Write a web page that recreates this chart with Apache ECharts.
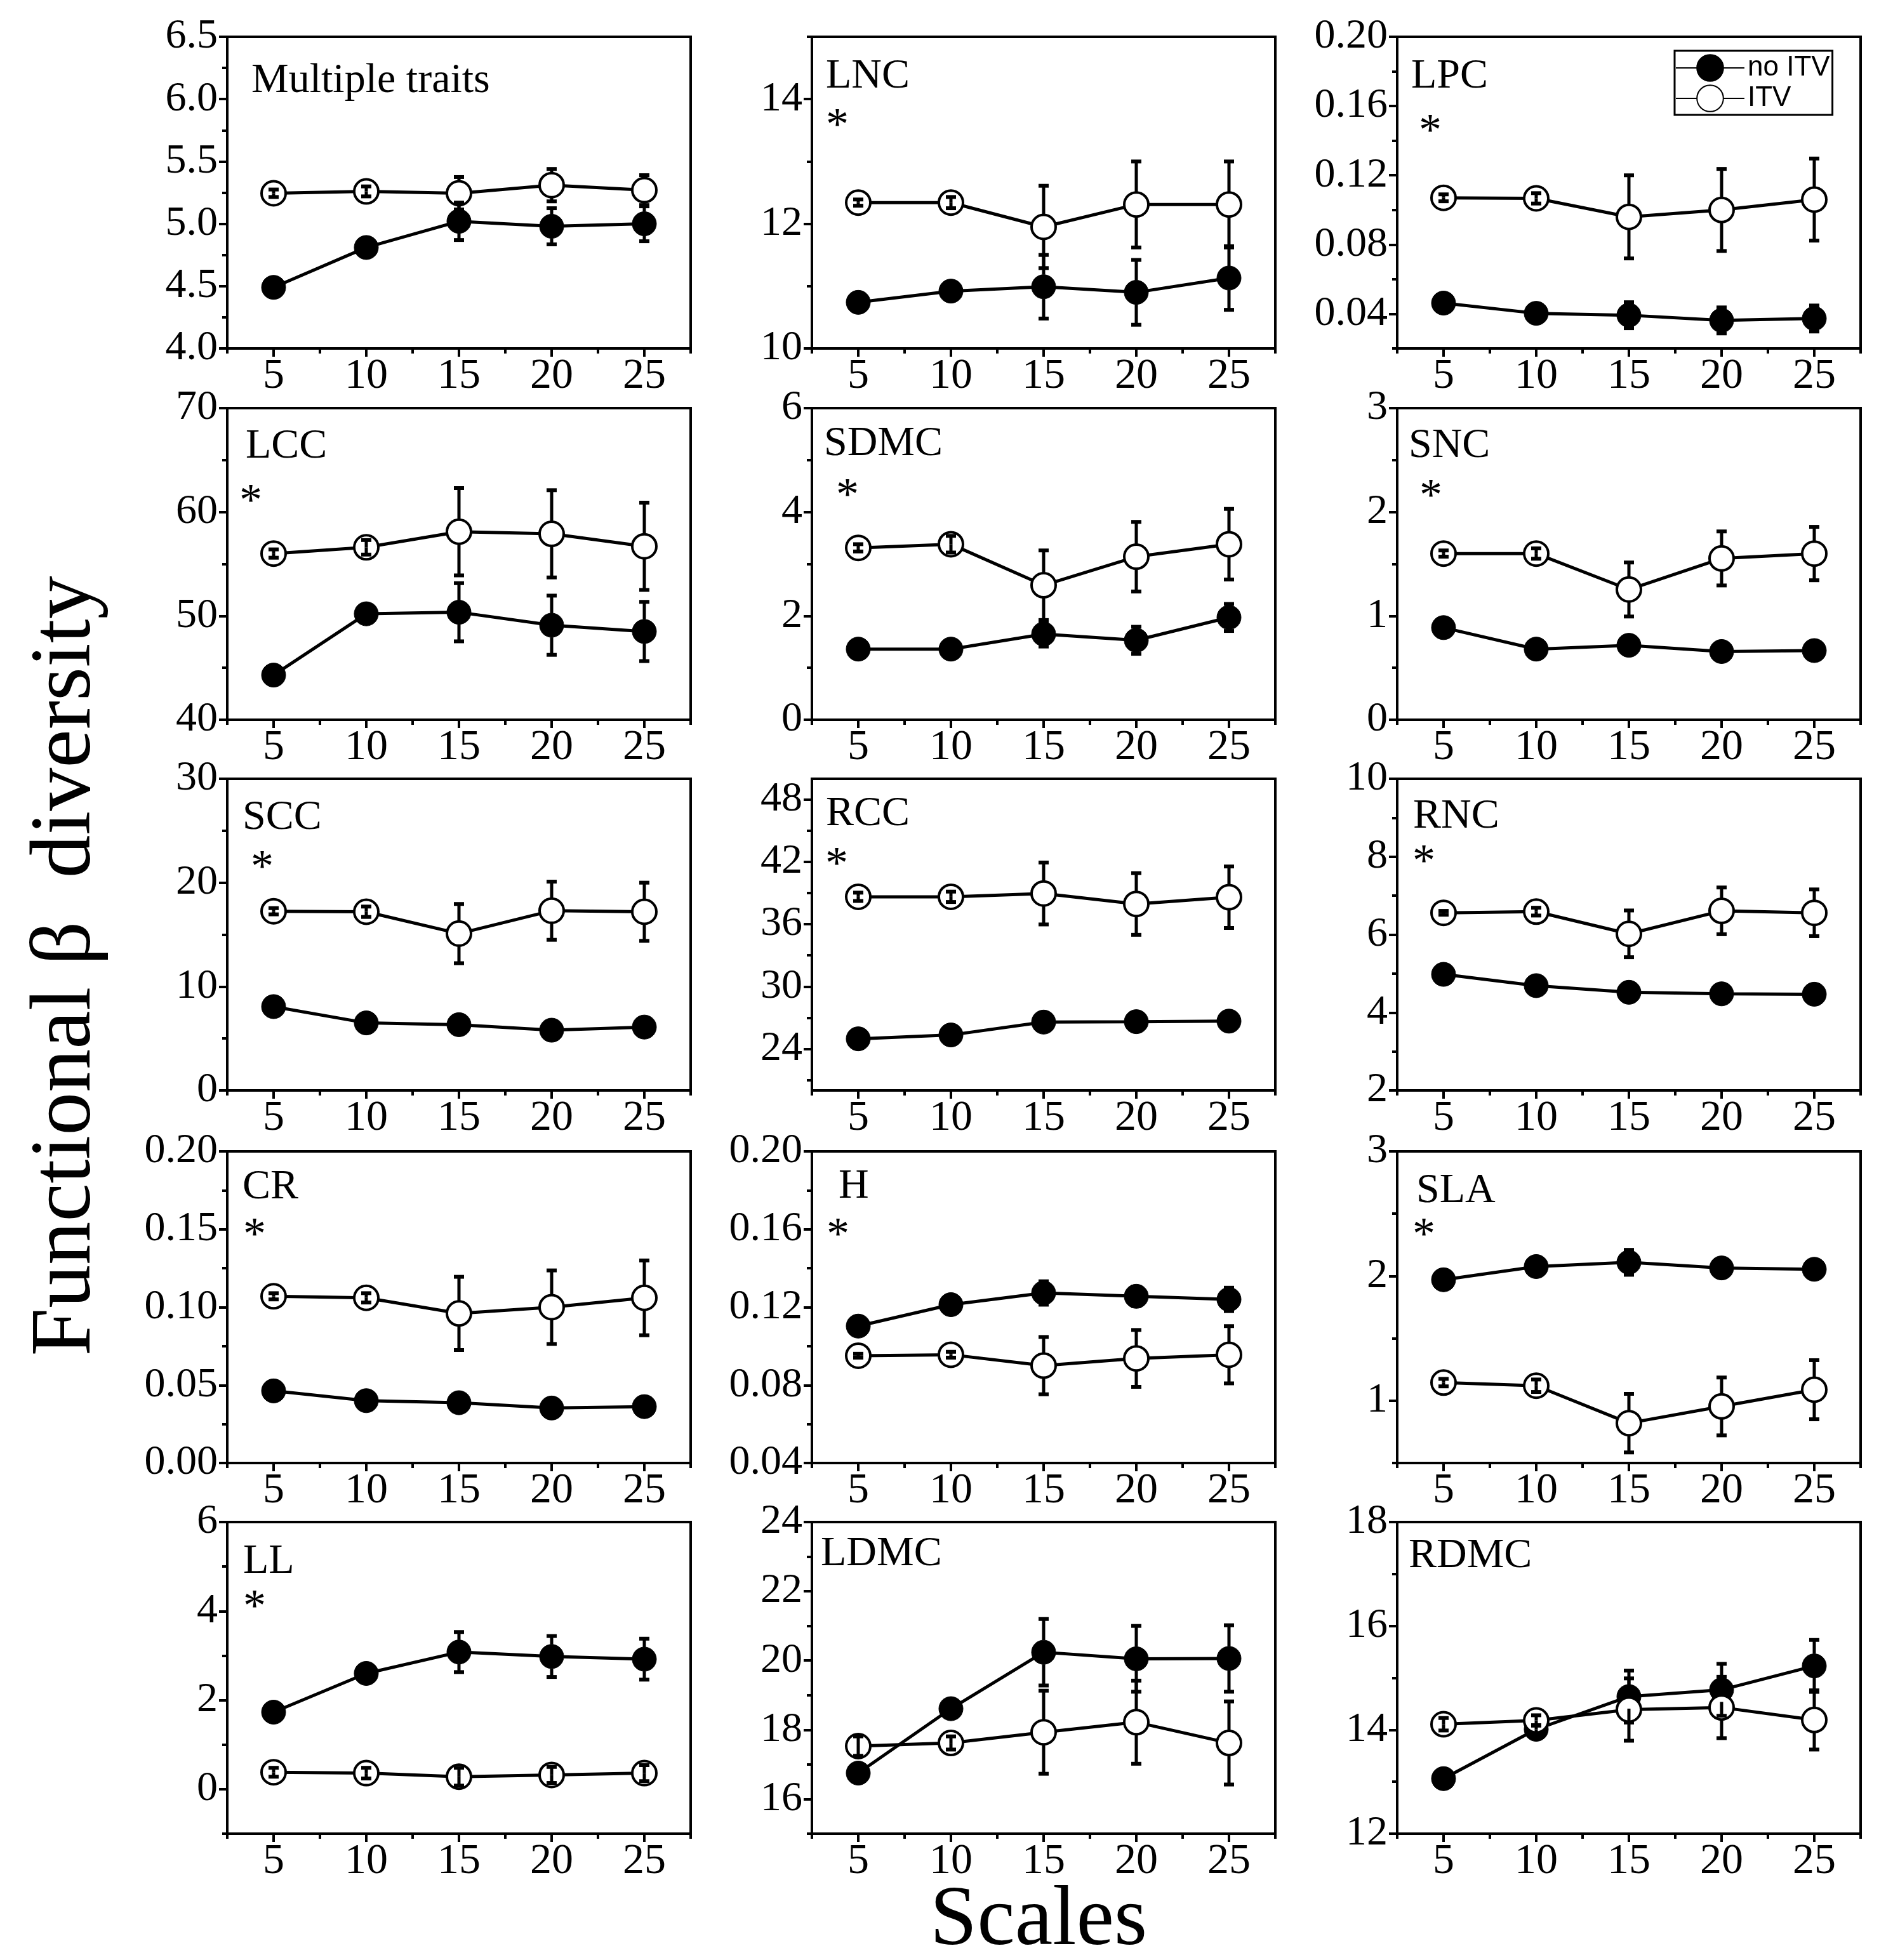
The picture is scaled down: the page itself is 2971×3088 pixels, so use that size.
<!DOCTYPE html>
<html>
<head>
<meta charset="utf-8">
<title>Functional beta diversity across scales</title>
<script src="https://cdn.jsdelivr.net/npm/echarts@6/dist/echarts.min.js"></script>
<style>
  html, body { margin: 0; padding: 0; background: #fff; }
  #chart { width: 2971px; height: 3088px; }
</style>
</head>
<body>
<div id="chart"></div>
<script>
// ---- data ----
const scales = [5, 10, 15, 20, 25];
const traits = ['Multiple traits', 'LNC', 'LPC', 'LCC', 'SDMC', 'SNC', 'SCC', 'RCC', 'RNC', 'CR', 'H', 'SLA', 'LL', 'LDMC', 'RDMC'];
const starred = [false, true, true, true, true, true, true, true, true, true, true, true, true, false, false];

// one row per trait, same order as traits
const noItvMean = [
  [4.49, 4.81, 5.02, 4.98, 5.00],
  [10.74, 10.92, 10.99, 10.90, 11.13],
  [0.0462, 0.0403, 0.0392, 0.0362, 0.0373],
  [44.3, 50.2, 50.35, 49.1, 48.5],
  [1.36, 1.36, 1.65, 1.53, 1.97],
  [0.887, 0.68, 0.717, 0.657, 0.666],
  [8.07, 6.5, 6.33, 5.8, 6.1],
  [24.97, 25.34, 26.58, 26.62, 26.67],
  [4.98, 4.69, 4.52, 4.48, 4.47],
  [0.0463, 0.040, 0.0387, 0.0353, 0.0362],
  [0.1103, 0.1213, 0.1273, 0.1256, 0.124],
  [1.97, 2.076, 2.11, 2.065, 2.054],
  [1.73, 2.6, 3.08, 2.98, 2.92],
  [16.75, 18.61, 20.24, 20.05, 20.06],
  [13.06, 14.01, 14.64, 14.77, 15.23]
];
const noItvErr = [
  [0.02, 0.03, 0.15, 0.145, 0.14],
  [0.04, 0.05, 0.51, 0.52, 0.51],
  [0.002, 0.002, 0.0075, 0.0075, 0.0075],
  [0.4, 0.5, 2.8, 2.85, 2.85],
  [0.03, 0.04, 0.24, 0.26, 0.26],
  [0.02, 0.02, 0.03, 0.03, 0.03],
  [0.3, 0.3, 0.6, 0.6, 0.5],
  [0.3, 0.3, 0.5, 0.4, 0.4],
  [0.05, 0.05, 0.08, 0.08, 0.08],
  [0.001, 0.0015, 0.002, 0.002, 0.002],
  [0.001, 0.002, 0.006, 0.005, 0.006],
  [0.02, 0.03, 0.1, 0.07, 0.07],
  [0.05, 0.08, 0.45, 0.46, 0.46],
  [0.05, 0.08, 0.96, 0.95, 0.96],
  [0.05, 0.08, 0.5, 0.5, 0.5]
];
const itvMean = [
  [5.245, 5.26, 5.245, 5.31, 5.27],
  [12.34, 12.34, 11.95, 12.31, 12.31],
  [0.107, 0.1067, 0.096, 0.100, 0.106],
  [56.0, 56.6, 58.1, 57.9, 56.7],
  [3.31, 3.38, 2.59, 3.14, 3.38],
  [1.6, 1.6, 1.254, 1.553, 1.6],
  [17.25, 17.2, 15.1, 17.3, 17.2],
  [38.64, 38.64, 38.96, 37.95, 38.6],
  [6.56, 6.59, 6.02, 6.61, 6.56],
  [0.107, 0.106, 0.096, 0.100, 0.106],
  [0.0951, 0.0956, 0.090, 0.0937, 0.0956],
  [1.145, 1.12, 0.82, 0.954, 1.088],
  [0.38, 0.36, 0.28, 0.32, 0.36],
  [17.53, 17.62, 17.93, 18.22, 17.62],
  [14.107, 14.18, 14.39, 14.43, 14.19]
];
const itvErr = [
  [0.03, 0.04, 0.13, 0.13, 0.12],
  [0.05, 0.09, 0.66, 0.69, 0.69],
  [0.002, 0.003, 0.024, 0.0237, 0.0237],
  [0.4, 0.7, 4.2, 4.2, 4.2],
  [0.07, 0.16, 0.67, 0.67, 0.68],
  [0.03, 0.05, 0.26, 0.26, 0.257],
  [0.3, 0.5, 2.85, 2.8, 2.8],
  [0.4, 0.5, 2.98, 2.97, 2.96],
  [0.05, 0.1, 0.6, 0.6, 0.6],
  [0.002, 0.003, 0.0235, 0.0236, 0.024],
  [0.001, 0.0015, 0.0147, 0.0146, 0.0147],
  [0.03, 0.05, 0.235, 0.232, 0.237],
  [0.1, 0.12, 0.2, 0.18, 0.18],
  [0.28, 0.19, 1.2, 1.2, 1.2],
  [0.12, 0.1, 0.6, 0.59, 0.57]
];

// axes
const yMin = [4, 10, 0.02, 40, 0, 0, 0, 20, 2, 0, 0.04, 0.5, -1, 15, 12];
const yMax = [6.5, 15, 0.20, 70, 6, 3, 30, 50, 10, 0.20, 0.20, 3, 6, 24, 18];
const yMajor = [
  [4.0, 4.5, 5.0, 5.5, 6.0, 6.5], [10, 12, 14], [0.04, 0.08, 0.12, 0.16, 0.20],
  [40, 50, 60, 70], [0, 2, 4, 6], [0, 1, 2, 3],
  [0, 10, 20, 30], [24, 30, 36, 42, 48], [2, 4, 6, 8, 10],
  [0, 0.05, 0.10, 0.15, 0.20], [0.04, 0.08, 0.12, 0.16, 0.20], [1, 2, 3],
  [0, 2, 4, 6], [16, 18, 20, 22, 24], [12, 14, 16, 18]
];
const yMinor = [
  [4.25, 4.75, 5.25, 5.75, 6.25], [11, 13, 15], [0.02, 0.06, 0.10, 0.14, 0.18],
  [45, 55, 65], [1, 3, 5], [0.5, 1.5, 2.5],
  [5, 15, 25], [21, 27, 33, 39, 45], [3, 5, 7, 9],
  [0.025, 0.075, 0.125, 0.175], [0.06, 0.10, 0.14, 0.18], [0.5, 1.5, 2.5],
  [-1, 1, 3, 5], [15, 17, 19, 21, 23], [13, 15, 17]
];
const yDecimals = [1, 0, 2, 0, 0, 0, 0, 0, 0, 2, 2, 0, 0, 0, 0];
const xMajor = [5, 10, 15, 20, 25];
const xMinor = [2.5, 7.5, 12.5, 17.5, 22.5, 27.5];

// ---- layout ----
const colLeft = [358, 1279, 2201];
const rowTop = [58, 643, 1227, 1814, 2398];
const gridW = 730, gridH = 491;
const labelDx = [38, 22, 22, 29, 19, 18, 24, 22, 25, 24, 42, 30, 25, 14, 18];
const labelBase = [92, 85, 85, 83, 79, 82, 84, 78, 82, 79, 78, 85, 85, 73, 76];
const starDx = [0, 40, 52, 37, 56, 53, 55, 39, 42, 43, 41, 42, 43, 0, 0];
const starDy = [0, 132, 141, 139, 130, 131, 132, 127, 123, 124, 124, 124, 126, 0, 0];

const SERIF = '"Liberation Serif", "Times New Roman", serif';
const SANS = '"Liberation Sans", Arial, sans-serif';
const FS = 66;
const R = 19; // marker radius

function errorBar(params, api) {
  const x = api.value(0), y = api.value(1), e = api.value(2);
  const c = api.coord([x, y]);
  const hi = api.coord([x, y + e])[1];
  const lo = api.coord([x, y - e])[1];
  const cap = 8;
  const fromHi = (c[1] - hi > R) ? c[1] - R : c[1];
  const fromLo = (lo - c[1] > R) ? c[1] + R : c[1];
  const st = { stroke: '#000', lineWidth: 5 };
  const capSt = { stroke: '#000', lineWidth: 6 };
  return {
    type: 'group',
    children: [
      { type: 'line', shape: { x1: c[0], y1: fromHi, x2: c[0], y2: hi }, style: st },
      { type: 'line', shape: { x1: c[0] - cap, y1: hi, x2: c[0] + cap, y2: hi }, style: capSt },
      { type: 'line', shape: { x1: c[0], y1: fromLo, x2: c[0], y2: lo }, style: st },
      { type: 'line', shape: { x1: c[0] - cap, y1: lo, x2: c[0] + cap, y2: lo }, style: capSt }
    ]
  };
}

const grids = [], xAxes = [], yAxes = [], series = [], graphics = [];

traits.forEach(function (name, i) {
  const left = colLeft[i % 3];
  const top = rowTop[Math.floor(i / 3)];
  grids.push({
    left: left, top: top, width: gridW, height: gridH,
    show: true, borderColor: '#000', borderWidth: 4, backgroundColor: 'transparent'
  });

  const line = { onZero: false, lineStyle: { color: '#000', width: 4 } };
  xAxes.push({
    gridIndex: i, type: 'value', position: 'bottom', min: 2.5, max: 27.5,
    axisLine: line, splitLine: { show: false },
    axisTick: { customValues: xMajor, length: 13, lineStyle: { color: '#000', width: 4 } },
    axisLabel: { customValues: xMajor, margin: 10, fontSize: 68, fontFamily: SERIF, color: '#000' }
  });
  xAxes.push({
    gridIndex: i, type: 'value', position: 'bottom', min: 2.5, max: 27.5,
    axisLine: { show: false, onZero: false }, splitLine: { show: false },
    axisTick: { customValues: xMinor, length: 8, lineStyle: { color: '#000', width: 4 } },
    axisLabel: { show: false }
  });
  yAxes.push({
    gridIndex: i, type: 'value', position: 'left', min: yMin[i], max: yMax[i],
    axisLine: line, splitLine: { show: false },
    axisTick: { customValues: yMajor[i], length: 13, lineStyle: { color: '#000', width: 4 } },
    axisLabel: {
      customValues: yMajor[i], margin: 15, fontSize: FS, fontFamily: SERIF, color: '#000',
      formatter: function (v) { return Number(v).toFixed(yDecimals[i]); }
    }
  });
  yAxes.push({
    gridIndex: i, type: 'value', position: 'left', min: yMin[i], max: yMax[i],
    axisLine: { show: false, onZero: false }, splitLine: { show: false },
    axisTick: { customValues: yMinor[i], length: 8, lineStyle: { color: '#000', width: 4 } },
    axisLabel: { show: false }
  });

  const ax = { xAxisIndex: 2 * i, yAxisIndex: 2 * i };
  series.push(Object.assign({
    type: 'line', name: 'no ITV', symbol: 'circle', symbolSize: 2 * R,
    data: scales.map(function (s, k) { return [s, noItvMean[i][k]]; }),
    lineStyle: { color: '#000', width: 5 },
    itemStyle: { color: '#000', borderColor: '#000', borderWidth: 1 },
    z: 2, silent: true
  }, ax));
  series.push(Object.assign({
    type: 'line', name: 'ITV', symbol: 'circle', symbolSize: 2 * R,
    data: scales.map(function (s, k) { return [s, itvMean[i][k]]; }),
    lineStyle: { color: '#000', width: 5 },
    itemStyle: { color: '#fff', borderColor: '#000', borderWidth: 4 },
    z: 3, silent: true
  }, ax));
  series.push(Object.assign({
    type: 'custom', name: 'no ITV error', renderItem: errorBar, clip: false, z: 4, silent: true,
    encode: { x: 0, y: 1 },
    data: scales.map(function (s, k) { return [s, noItvMean[i][k], noItvErr[i][k]]; })
  }, ax));
  series.push(Object.assign({
    type: 'custom', name: 'ITV error', renderItem: errorBar, clip: false, z: 4, silent: true,
    encode: { x: 0, y: 1 },
    data: scales.map(function (s, k) { return [s, itvMean[i][k], itvErr[i][k]]; })
  }, ax));

  graphics.push({
    type: 'text', x: left + labelDx[i], y: top + labelBase[i] - 0.34 * FS, z: 10,
    style: { text: name, fontSize: FS, fontFamily: SERIF, fill: '#000', align: 'left', verticalAlign: 'middle' }
  });
  if (starred[i]) {
    graphics.push({
      type: 'text', x: left + starDx[i], y: top + starDy[i] + 10, z: 10,
      style: { text: '*', fontSize: 72, fontFamily: SERIF, fill: '#000', align: 'center', verticalAlign: 'middle' }
    });
  }
});

graphics.push({
  type: 'text', x: 105, y: 1522, rotation: Math.PI / 2, z: 10,
  style: { text: 'Functional β  diversity', fontSize: 136, fontFamily: SERIF, fill: '#000', align: 'center', verticalAlign: 'middle' }
});
graphics.push({
  type: 'text', x: 1636, y: 3028, z: 10,
  style: { text: 'Scales', fontSize: 134, fontFamily: SERIF, fill: '#000', align: 'center', verticalAlign: 'middle' }
});

const chart = echarts.init(document.getElementById('chart'));
chart.setOption({
  animation: false,
  backgroundColor: '#fff',
  textStyle: { fontFamily: SERIF, color: '#000' },
  grid: grids,
  xAxis: xAxes,
  yAxis: yAxes,
  legend: {
    data: ['no ITV', 'ITV'], orient: 'vertical', left: 2638, top: 80,
    itemWidth: 108, itemHeight: 52, itemGap: 4, padding: [5, 4, 4, 1],
    borderColor: '#000', borderWidth: 3, selectedMode: false,
    textStyle: { fontFamily: SANS, fontSize: 44, color: '#000' }
  },
  series: series,
  graphic: graphics
});
</script>
</body>
</html>
